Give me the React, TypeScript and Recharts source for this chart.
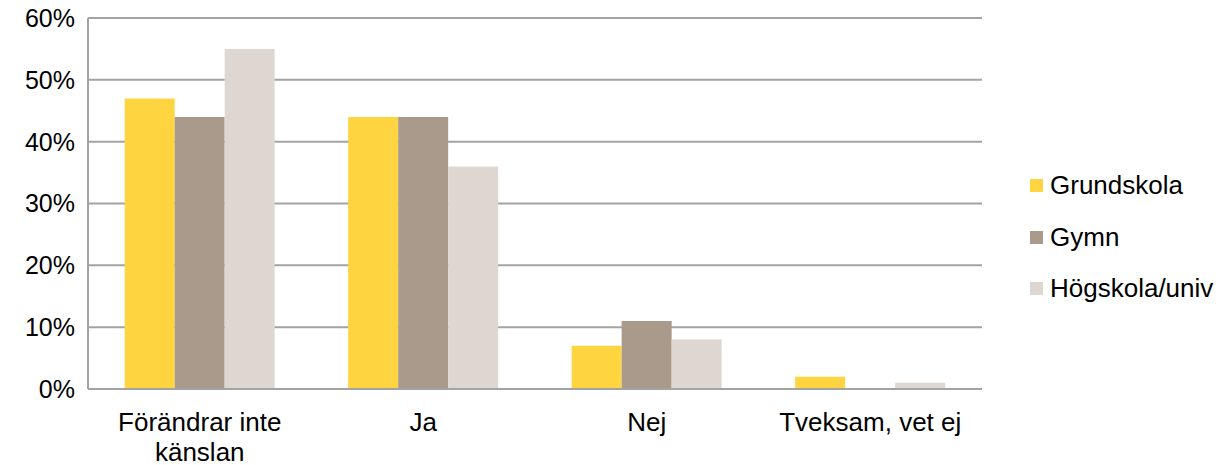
import React from 'react';
import { BarChart, Bar, XAxis, YAxis, CartesianGrid } from 'recharts';

const categories = ['Förändrar inte känslan', 'Ja', 'Nej', 'Tveksam, vet ej'];
const grundskola = [47, 44, 7, 2];
const gymn = [44, 44, 11, 0];
const hogskola = [55, 36, 8, 1];
const yTicks = [0, 10, 20, 30, 40, 50, 60];

const series = [
  { key: 'grundskola', name: 'Grundskola', color: '#FED440' },
  { key: 'gymn', name: 'Gymn', color: '#AA9A8B' },
  { key: 'hogskola', name: 'Högskola/univ', color: '#DED7D1' },
];

const data = categories.map((c, i) => ({
  category: c,
  grundskola: grundskola[i],
  gymn: gymn[i],
  hogskola: hogskola[i],
}));

const FONT = '"Liberation Sans", Arial, sans-serif';

// split a label into lines of at most maxChars characters
const wrap = (label: string, maxChars = 16) => {
  const lines: string[] = [];
  let cur = '';
  label.split(' ').forEach((w) => {
    const next = cur ? `${cur} ${w}` : w;
    if (next.length > maxChars && cur) {
      lines.push(cur);
      cur = w;
    } else {
      cur = next;
    }
  });
  if (cur) lines.push(cur);
  return lines;
};

const XTick = ({ x, y, payload }: any) => (
  <text x={x} y={y} textAnchor="middle" fontSize={26} fill="#000" fontFamily={FONT}>
    {wrap(payload.value).map((line, i) => (
      <tspan key={i} x={x} dy={i === 0 ? 34 : 29.5}>
        {line}
      </tspan>
    ))}
  </text>
);

const LegendBox = () => (
  <div style={{ position: 'absolute', left: 1030, top: 160, fontFamily: FONT, fontSize: 26, color: '#000' }}>
    {series.map((s) => (
      <div key={s.key} style={{ display: 'flex', alignItems: 'center', height: 51.5 }}>
        <span style={{ width: 13, height: 13, background: s.color, marginRight: 7, display: 'inline-block' }} />
        <span>{s.name}</span>
      </div>
    ))}
  </div>
);

export default function App() {
  return (
    <div style={{ position: 'absolute', left: 0, top: 0, width: 1220, height: 465, background: '#fff' }}>
      <BarChart
        width={1220}
        height={465}
        data={data}
        margin={{ top: 18, right: 238, left: 0, bottom: 0 }}
        barCategoryGap="16.4%"
        barGap={0}
      >
        <CartesianGrid vertical={false} stroke="#A3A3A3" strokeWidth={2} />
        <XAxis
          dataKey="category"
          interval={0}
          height={76}
          tickLine={false}
          axisLine={{ stroke: '#A3A3A3', strokeWidth: 2 }}
          tick={<XTick />}
        />
        <YAxis
          width={88}
          domain={[0, 60]}
          ticks={yTicks}
          tickFormatter={(v: number) => `${v}%`}
          tickLine={false}
          tickSize={0}
          tickMargin={13}
          axisLine={{ stroke: '#A3A3A3', strokeWidth: 2 }}
          tick={{ fontSize: 25, fill: '#000', fontFamily: FONT }}
        />
        {series.map((s) => (
          <Bar key={s.key} dataKey={s.key} name={s.name} fill={s.color} isAnimationActive={false} />
        ))}
      </BarChart>
      <LegendBox />
    </div>
  );
}
